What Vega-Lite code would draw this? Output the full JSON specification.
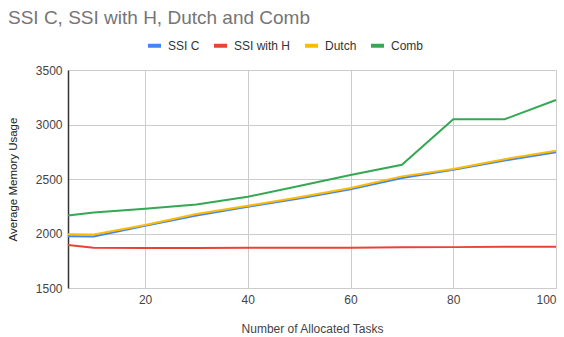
{
  "$schema": "https://vega.github.io/schema/vega-lite/v6.json",
  "width": 488,
  "height": 218,
  "autosize": "none",
  "padding": {"left": 68, "top": 70, "right": 8, "bottom": 49},
  "background": "white",
  "title": {
    "text": "SSI C, SSI with H, Dutch and Comb",
    "anchor": "start",
    "frame": "group",
    "dx": -60,
    "dy": 21,
    "font": "Arial, Liberation Sans",
    "fontSize": 19,
    "fontWeight": "normal",
    "color": "#757575",
    "offset": 30
  },
  "data": {
    "values": [
      {"tasks": 5, "series": "SSI C", "memory": 1975},
      {"tasks": 10, "series": "SSI C", "memory": 1973},
      {"tasks": 20, "series": "SSI C", "memory": 2072},
      {"tasks": 30, "series": "SSI C", "memory": 2165},
      {"tasks": 40, "series": "SSI C", "memory": 2245},
      {"tasks": 50, "series": "SSI C", "memory": 2320},
      {"tasks": 60, "series": "SSI C", "memory": 2405},
      {"tasks": 70, "series": "SSI C", "memory": 2510},
      {"tasks": 80, "series": "SSI C", "memory": 2585},
      {"tasks": 90, "series": "SSI C", "memory": 2670},
      {"tasks": 100, "series": "SSI C", "memory": 2745},
      {"tasks": 5, "series": "SSI with H", "memory": 1895},
      {"tasks": 10, "series": "SSI with H", "memory": 1870},
      {"tasks": 20, "series": "SSI with H", "memory": 1868},
      {"tasks": 30, "series": "SSI with H", "memory": 1868},
      {"tasks": 40, "series": "SSI with H", "memory": 1869},
      {"tasks": 50, "series": "SSI with H", "memory": 1870},
      {"tasks": 60, "series": "SSI with H", "memory": 1870},
      {"tasks": 70, "series": "SSI with H", "memory": 1873},
      {"tasks": 80, "series": "SSI with H", "memory": 1875},
      {"tasks": 90, "series": "SSI with H", "memory": 1878},
      {"tasks": 100, "series": "SSI with H", "memory": 1878},
      {"tasks": 5, "series": "Dutch", "memory": 1993},
      {"tasks": 10, "series": "Dutch", "memory": 1991},
      {"tasks": 20, "series": "Dutch", "memory": 2078},
      {"tasks": 30, "series": "Dutch", "memory": 2178},
      {"tasks": 40, "series": "Dutch", "memory": 2255},
      {"tasks": 50, "series": "Dutch", "memory": 2332},
      {"tasks": 60, "series": "Dutch", "memory": 2417},
      {"tasks": 70, "series": "Dutch", "memory": 2524},
      {"tasks": 80, "series": "Dutch", "memory": 2592},
      {"tasks": 90, "series": "Dutch", "memory": 2682},
      {"tasks": 100, "series": "Dutch", "memory": 2760},
      {"tasks": 5, "series": "Comb", "memory": 2165},
      {"tasks": 10, "series": "Comb", "memory": 2193},
      {"tasks": 20, "series": "Comb", "memory": 2228},
      {"tasks": 30, "series": "Comb", "memory": 2266},
      {"tasks": 40, "series": "Comb", "memory": 2337},
      {"tasks": 50, "series": "Comb", "memory": 2435},
      {"tasks": 60, "series": "Comb", "memory": 2537},
      {"tasks": 70, "series": "Comb", "memory": 2631},
      {"tasks": 80, "series": "Comb", "memory": 3048},
      {"tasks": 90, "series": "Comb", "memory": 3048},
      {"tasks": 100, "series": "Comb", "memory": 3225}
    ]
  },
  "mark": {"type": "line", "strokeWidth": 2, "interpolate": "linear"},
  "encoding": {
    "x": {
      "field": "tasks",
      "type": "quantitative",
      "title": "Number of Allocated Tasks",
      "scale": {"domain": [5, 100], "nice": false, "zero": false},
      "axis": {
        "values": [20, 40, 60, 80, 100],
        "domain": false,
        "ticks": false,
        "grid": true,
        "gridColor": "#cccccc",
        "labelFont": "Arial, Liberation Sans",
        "labelFontSize": 12,
        "labelColor": "#444444",
        "labelPadding": 6,
        "titleFont": "Arial, Liberation Sans",
        "titleFontSize": 12,
        "titleFontWeight": "normal",
        "titleColor": "#444444",
        "titlePadding": 18
      }
    },
    "y": {
      "field": "memory",
      "type": "quantitative",
      "title": "Average Memory Usage",
      "scale": {"domain": [1500, 3500], "nice": false, "zero": false},
      "axis": {
        "values": [1500, 2000, 2500, 3000, 3500],
        "format": "d",
        "domain": true,
        "domainColor": "#333333",
        "domainWidth": 1.5,
        "ticks": false,
        "grid": true,
        "gridColor": "#cccccc",
        "labelFont": "Arial, Liberation Sans",
        "labelFontSize": 12,
        "labelColor": "#444444",
        "labelPadding": 6,
        "titleFont": "Arial, Liberation Sans",
        "titleFontSize": 11.5,
        "titleFontWeight": "normal",
        "titleColor": "#222222",
        "titlePadding": 17
      }
    },
    "color": {
      "field": "series",
      "type": "nominal",
      "sort": ["SSI C", "SSI with H", "Dutch", "Comb"],
      "scale": {
        "domain": ["SSI C", "SSI with H", "Dutch", "Comb"],
        "range": ["#4285F4", "#EA4335", "#FBBC04", "#34A853"]
      },
      "legend": {
        "title": null,
        "orient": "none",
        "direction": "horizontal",
        "legendX": 78,
        "legendY": -33,
        "padding": 0,
        "symbolType": "stroke",
        "symbolSize": 169,
        "symbolStrokeWidth": 4,
        "labelFont": "Arial, Liberation Sans",
        "labelFontSize": 12,
        "labelColor": "#333333",
        "labelOffset": 5,
        "columnPadding": 6
      }
    },
    "order": {"field": "series", "sort": "ascending"}
  },
  "config": {"view": {"stroke": null}}
}
